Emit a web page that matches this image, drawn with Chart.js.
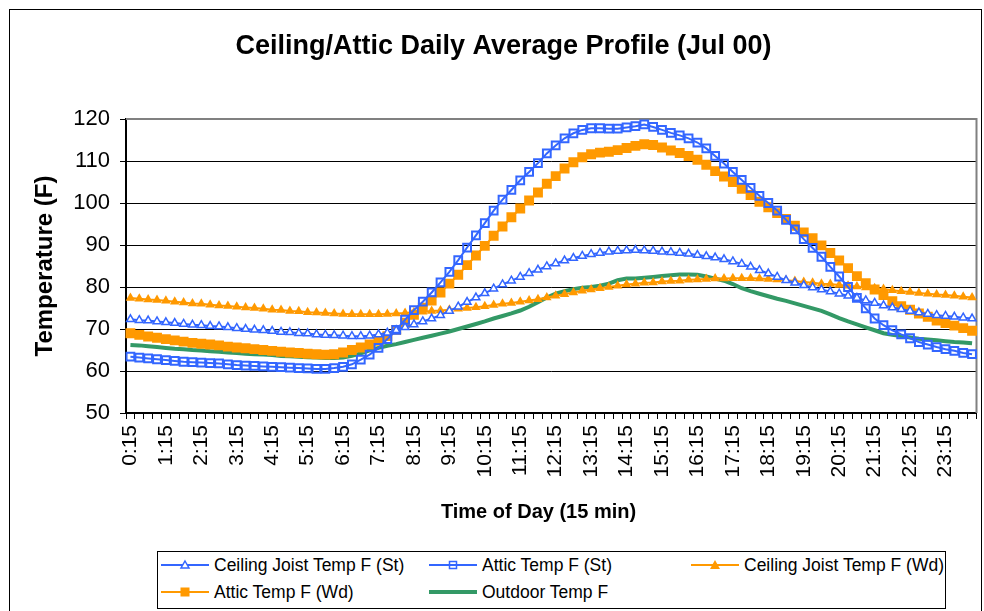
<!DOCTYPE html>
<html><head><meta charset="utf-8">
<script src="https://cdn.jsdelivr.net/npm/chart.js@4.4.0/dist/chart.umd.min.js"></script>
<style>
html,body{margin:0;padding:0;background:#fff;overflow:hidden;}
#wrap{position:relative;width:984px;height:611px;overflow:hidden;}
#frame{position:absolute;left:9px;top:9px;width:973px;height:660px;border:1px solid #000;box-sizing:border-box;pointer-events:none;}
canvas{position:absolute;left:0;top:0;}
#legend{position:absolute;left:157px;top:551px;width:789px;height:58px;border:1px solid #000;box-sizing:border-box;background:#fff;font-family:'Liberation Sans',Arial,sans-serif;font-size:17.5px;color:#000;}
.item{position:absolute;height:20px;line-height:20px;white-space:nowrap;}
.item svg{position:absolute;left:0;top:3px;}
.item span{position:absolute;top:0;}
</style>
</head><body>
<div id="wrap">
<canvas id="c" width="984" height="611"></canvas>
<div id="frame"></div>
<div id="legend"></div>
</div>
<script>
const timeLabels = ["0:15","0:30","0:45","1:00","1:15","1:30","1:45","2:00","2:15","2:30","2:45","3:00","3:15","3:30","3:45","4:00","4:15","4:30","4:45","5:00","5:15","5:30","5:45","6:00","6:15","6:30","6:45","7:00","7:15","7:30","7:45","8:00","8:15","8:30","8:45","9:00","9:15","9:30","9:45","10:00","10:15","10:30","10:45","11:00","11:15","11:30","11:45","12:00","12:15","12:30","12:45","13:00","13:15","13:30","13:45","14:00","14:15","14:30","14:45","15:00","15:15","15:30","15:45","16:00","16:15","16:30","16:45","17:00","17:15","17:30","17:45","18:00","18:15","18:30","18:45","19:00","19:15","19:30","19:45","20:00","20:15","20:30","20:45","21:00","21:15","21:30","21:45","22:00","22:15","22:30","22:45","23:00","23:15","23:30","23:45","24:00"];

const ceilingJoistSt = [72.3,72.1,72.0,71.8,71.6,71.4,71.2,71.0,70.9,70.7,70.6,70.4,70.2,70.0,69.8,69.7,69.5,69.3,69.2,69.0,68.9,68.7,68.6,68.5,68.4,68.3,68.3,68.4,68.7,69.1,69.7,70.4,71.1,71.8,72.5,73.3,74.3,75.3,76.4,77.5,78.5,79.6,80.6,81.5,82.4,83.3,84.1,84.9,85.6,86.3,86.9,87.4,87.8,88.1,88.4,88.6,88.7,88.8,88.7,88.6,88.4,88.3,88.1,87.9,87.6,87.3,87.0,86.6,86.1,85.5,84.8,84.0,83.2,82.4,81.6,81.0,80.4,79.9,79.4,78.9,78.4,77.9,77.4,76.8,76.2,75.6,75.1,74.7,74.3,73.9,73.6,73.3,73.1,72.9,72.7,72.5];

const atticSt = [63.4,63.2,63.0,62.8,62.6,62.4,62.2,62.1,62.0,61.9,61.8,61.6,61.4,61.3,61.2,61.1,61.0,60.9,60.8,60.7,60.6,60.5,60.5,60.7,61.0,61.6,62.7,63.9,65.5,67.6,69.8,72.2,74.5,76.5,78.7,81.1,83.6,86.4,89.4,92.3,95.2,98.2,100.8,103.1,105.4,107.4,109.5,111.8,113.7,115.4,116.6,117.4,117.8,117.8,117.7,117.7,118.0,118.3,118.7,118.1,117.4,116.7,116.1,115.4,114.4,113.0,111.2,109.4,107.4,105.5,103.6,101.7,100.0,98.2,96.0,93.7,91.4,89.3,87.2,84.8,82.5,80.0,77.4,74.9,72.5,70.9,69.7,68.7,67.8,66.9,66.3,65.7,65.2,64.8,64.3,64.0];

const ceilingJoistWd = [77.4,77.2,77.0,76.9,76.7,76.5,76.3,76.1,76.0,75.8,75.6,75.5,75.3,75.1,75.0,74.8,74.6,74.5,74.3,74.2,74.0,73.9,73.8,73.7,73.6,73.5,73.5,73.5,73.5,73.6,73.7,73.8,74.0,74.1,74.3,74.4,74.6,74.8,75.0,75.2,75.4,75.7,76.0,76.2,76.5,76.8,77.1,77.5,77.9,78.3,78.7,79.1,79.4,79.7,80.0,80.3,80.6,80.8,81.0,81.1,81.3,81.4,81.5,81.7,81.8,81.9,82.0,82.0,82.1,82.1,82.1,82.0,81.9,81.8,81.6,81.4,81.2,81.0,80.8,80.7,80.5,80.3,80.1,79.9,79.7,79.5,79.2,79.0,78.8,78.6,78.4,78.2,78.1,77.9,77.7,77.5];

const atticWd = [69.0,68.6,68.2,67.9,67.6,67.3,67.0,66.7,66.5,66.3,66.1,65.8,65.6,65.4,65.2,65.0,64.8,64.6,64.4,64.3,64.1,64.0,63.9,64.0,64.4,65.0,65.6,66.3,67.2,68.3,69.8,71.5,73.4,75.1,76.8,78.7,80.8,82.9,85.2,87.5,89.8,92.2,94.4,96.6,98.7,100.6,102.5,104.6,106.4,108.2,109.7,110.9,111.6,112.0,112.2,112.6,113.1,113.6,114.0,113.8,113.2,112.5,111.9,111.2,110.3,109.1,107.6,106.3,105.0,103.4,101.9,100.3,99.0,97.6,96.2,94.6,93.0,91.6,89.9,88.1,86.3,84.5,82.6,80.9,79.4,78.1,76.6,75.4,74.6,73.7,72.9,72.0,71.4,70.8,70.2,69.6];

const outdoor = [66.2,66.1,65.9,65.7,65.5,65.3,65.2,65.0,64.9,64.7,64.6,64.4,64.3,64.1,64.0,63.9,63.8,63.6,63.5,63.4,63.3,63.2,63.1,63.1,63.2,63.6,64.2,64.9,65.5,66.0,66.4,66.9,67.4,67.9,68.4,68.9,69.4,70.0,70.6,71.2,71.8,72.5,73.1,73.7,74.4,75.3,76.4,77.5,78.4,79.0,79.5,79.8,80.0,80.3,80.8,81.6,82.0,82.0,82.2,82.4,82.6,82.8,83.0,83.0,82.9,82.5,82.0,81.5,80.7,79.7,79.0,78.4,77.8,77.2,76.7,76.1,75.5,74.9,74.3,73.5,72.6,71.8,71.1,70.4,69.7,69.0,68.6,68.3,68.0,67.7,67.5,67.3,67.1,66.9,66.8,66.6];

const yTicks = [50,60,70,80,90,100,110,120];
const seriesNames = ["Ceiling Joist Temp F (St)","Attic Temp F (St)","Ceiling Joist Temp F (Wd)","Attic Temp F (Wd)","Outdoor Temp F"];
const xAxisTitle = 'Time of Day (15 min)';

const BLUE = '#3366FF', ORANGE = '#FF9900', GREEN = '#339966';
const FONT = "'Liberation Sans', Arial, sans-serif";

const frameBorder = {
  id:'frameBorder',
  beforeDatasetsDraw(chart){
    const {ctx, chartArea:a} = chart;
    ctx.save();
    ctx.strokeStyle = '#808080';
    ctx.lineWidth = 2;
    ctx.beginPath();
    ctx.moveTo(a.left, a.top);
    ctx.lineTo(a.right, a.top);
    ctx.lineTo(a.right, a.bottom);
    ctx.stroke();
    ctx.restore();
  },
  afterDraw(chart){
    // x-axis title, centred as in the original (slightly left of the plot centre)
    const {ctx, chartArea:a} = chart;
    ctx.save();
    ctx.font = "bold 20px " + FONT;
    ctx.fillStyle = '#000';
    ctx.textAlign = 'center';
    ctx.textBaseline = 'middle';
    ctx.fillText(xAxisTitle, a.left + (a.right - a.left) * 0.485, a.bottom + 99);
    ctx.restore();
  }
};

new Chart(document.getElementById('c'), {
  type:'line',
  data:{
    labels: timeLabels,
    datasets:[
      {label:seriesNames[0], data:ceilingJoistSt, borderColor:BLUE, borderWidth:2, pointStyle:'triangle', pointRadius:4.5, pointBorderWidth:1.5, pointBorderColor:BLUE, pointBackgroundColor:'#ffffff', tension:0},
      {label:seriesNames[1], data:atticSt, borderColor:BLUE, borderWidth:2, pointStyle:'rect', pointRadius:5.5, pointBorderWidth:2, pointBorderColor:BLUE, pointBackgroundColor:'rgba(0,0,0,0)', tension:0},
      {label:seriesNames[2], data:ceilingJoistWd, borderColor:ORANGE, borderWidth:2, pointStyle:'triangle', pointRadius:5.5, pointBorderWidth:0, pointBorderColor:ORANGE, pointBackgroundColor:ORANGE, tension:0},
      {label:seriesNames[3], data:atticWd, borderColor:ORANGE, borderWidth:2, pointStyle:'rect', pointRadius:7, pointBorderWidth:0, pointBorderColor:ORANGE, pointBackgroundColor:ORANGE, tension:0},
      {label:seriesNames[4], data:outdoor, borderColor:GREEN, borderWidth:4, pointRadius:0, tension:0}
    ]
  },
  options:{
    responsive:false, animation:false,
    layout:{padding:{left:30,right:7,top:0,bottom:84}},
    plugins:{
      legend:{display:false},
      tooltip:{enabled:false},
      title:{display:true, text:'Ceiling/Attic Daily Average Profile (Jul 00)', color:'#000',
        font:{family:FONT, size:27, weight:'bold'}, padding:{top:30, bottom:56.6}}
    },
    scales:{
      x:{
        type:'category', offset:true,
        grid:{offset:true, drawOnChartArea:false, drawTicks:true, tickLength:6, color:'#000', lineWidth:1},
        border:{display:true, color:'#000', width:2},
        ticks:{autoSkip:false, maxRotation:90, minRotation:90, color:'#000', padding:6,
          font:{family:FONT, size:21},
          callback:(v,i)=> (i % 4 === 0 ? timeLabels[i] : '')},
        title:{display:false},
        afterFit:(s)=>{ s.height = 114; s.paddingLeft = 0; s.paddingRight = 0; }
      },
      y:{
        min:50, max:120,
        afterBuildTicks:(s)=>{ s.ticks = yTicks.map(v=>({value:v})); },
        ticks:{color:'#000', padding:10, font:{family:FONT, size:22}},
        grid:{color:'#000', lineWidth:1, tickLength:6, drawTicks:true},
        border:{display:true, color:'#000', width:2},
        title:{display:true, text:'Temperature (F)', color:'#000', font:{family:FONT, size:24, weight:'bold'}, padding:{top:1,bottom:0}},
        afterFit:(s)=>{ s.width = 96; s.paddingTop = 0; s.paddingBottom = 0; }
      }
    }
  },
  plugins:[frameBorder]
});

// HTML legend
const legendItems = [
  {name:seriesNames[0], col:0, row:0, color:BLUE, marker:'tri-open'},
  {name:seriesNames[1], col:1, row:0, color:BLUE, marker:'sq-open'},
  {name:seriesNames[2], col:2, row:0, color:ORANGE, marker:'tri'},
  {name:seriesNames[3], col:0, row:1, color:ORANGE, marker:'sq'},
  {name:seriesNames[4], col:1, row:1, color:GREEN, marker:'none'}
];
const colX = [3, 271, 533];
const rowY = [3, 30];
const lg = document.getElementById('legend');
legendItems.forEach(it=>{
  const d = document.createElement('div');
  d.className = 'item';
  d.style.left = colX[it.col] + 'px';
  d.style.top = rowY[it.row] + 'px';
  let m = '';
  if (it.marker==='tri-open') m = `<polygon points="24,3 28,10 20,10" fill="#fff" stroke="${it.color}" stroke-width="1.5"/>`;
  if (it.marker==='sq-open') m = `<rect x="20.5" y="3.5" width="7" height="7" fill="none" stroke="${it.color}" stroke-width="1.5"/>`;
  if (it.marker==='tri') m = `<polygon points="24,2 29,11 19,11" fill="${it.color}"/>`;
  if (it.marker==='sq') m = `<rect x="19.5" y="2.5" width="9" height="9" fill="${it.color}"/>`;
  const w = it.marker==='none' ? 4 : 2;
  d.innerHTML = `<svg width="48" height="14"><line x1="0" y1="7" x2="48" y2="7" stroke="${it.color}" stroke-width="${w}"/>${m}</svg><span style="left:53px">${it.name}</span>`;
  lg.appendChild(d);
});
</script>
</body></html>
